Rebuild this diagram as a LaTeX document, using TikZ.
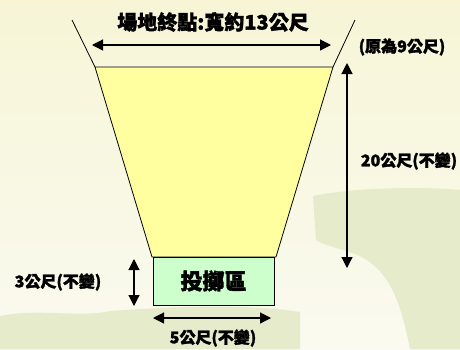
\documentclass[tikz,border=0pt]{standalone}
\usepackage{fontspec}
\setmainfont{Noto Sans CJK TC}[BoldFeatures={FakeBold=1.6}]
\usetikzlibrary{arrows.meta}
\definecolor{bgcream}{HTML}{F7F5D6}
\definecolor{bglight}{HTML}{FAFAF0}
\definecolor{bghill}{HTML}{E6ECCB}
\definecolor{fieldyellow}{HTML}{FFFF9F}
\definecolor{zonegreen}{HTML}{CCFFCC}
\begin{document}
\begin{tikzpicture}[x=1pt,y=-1pt,
  dim/.style={line width=1.2pt,{Triangle[length=11pt,width=11pt]}-{Triangle[length=11pt,width=11pt]}},
  lbl/.style={font=\fontsize{16}{16}\selectfont\bfseries,inner sep=0pt}]
\useasboundingbox (0,0) rectangle (460,349);
% background
\shade[top color=bgcream,bottom color=bglight] (0,0) rectangle (460,349);
\fill[bghill] (313,196) .. controls (350,188) and (420,186) .. (460,190) -- (460,349) -- (410,349)
  .. controls (400,300) and (390,272) .. (360,256) .. controls (340,248) and (325,246) .. (316,240) -- cycle;
\fill[bghill] (0,316) .. controls (40,308) and (80,318) .. (110,311) .. controls (180,306) and (250,304) .. (300,312) -- (300,349) -- (0,349) -- cycle;
% field
\draw[thick,fill=fieldyellow] (95,67) -- (333,67) -- (276,257) -- (152,257) -- cycle;
\draw[thick] (72,20) -- (95,67);
\draw[thick] (355,20) -- (333,67);
\node[draw,thick,fill=zonegreen,minimum width=121pt,minimum height=48pt,inner sep=0pt,
  font=\fontsize{22}{22}\selectfont\bfseries] (zone) at (213.5,281) {投擲區};
% dimensions
\coordinate (topL) at (92,45); \coordinate (topR) at (331,45);
\coordinate (lenT) at (347,63); \coordinate (lenB) at (347,268);
\coordinate (zoneT) at (134,259); \coordinate (zoneB) at (134,306);
\coordinate (baseL) at (153,318); \coordinate (baseR) at (271,318);
\draw[dim] (topL) -- (topR);
\draw[dim] (lenT) -- (lenB);
\draw[dim] (zoneT) -- (zoneB);
\draw[dim] (baseL) -- (baseR);
\node[lbl,font=\fontsize{20}{20}\selectfont\bfseries] (width) at (213,22) {場地終點:寬約13公尺};
\node[lbl] (old) at (402,47) {(原為9公尺)};
\node[lbl] (length) at (409,161) {20公尺(不變)};
\node[lbl] (depth) at (58,282) {3公尺(不變)};
\node[lbl] (base) at (213,338) {5公尺(不變)};
\end{tikzpicture}
\end{document}
